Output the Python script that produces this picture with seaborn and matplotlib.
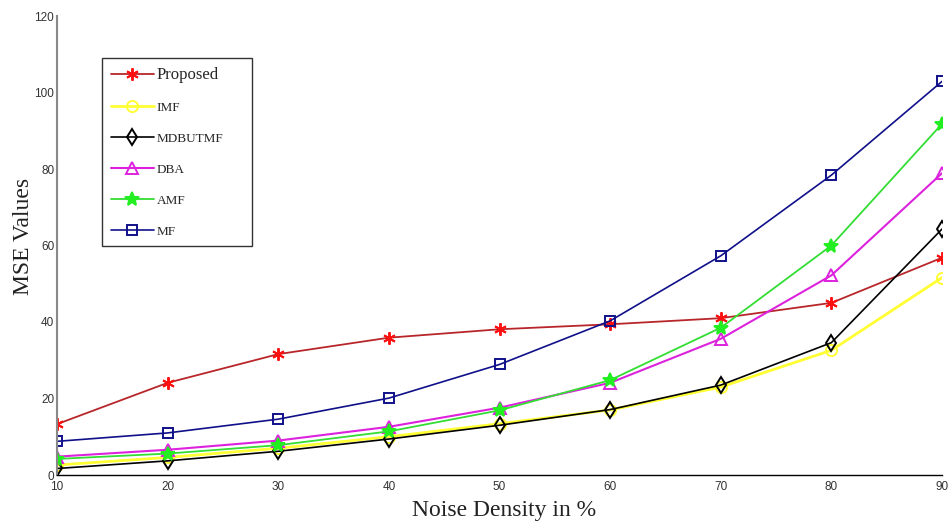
import matplotlib
matplotlib.use("Agg")
import matplotlib.pyplot as plt
import seaborn as sns
import pandas as pd

noise = [10, 20, 30, 40, 50, 60, 70, 80, 90]
proposed = [13.3, 24.1, 31.6, 35.9, 38.1, 39.4, 41.0, 45.0, 56.8]
imf = [2.6, 4.6, 7.0, 10.0, 13.4, 17.0, 23.0, 32.6, 51.6]
mdbutmf = [1.7, 3.7, 6.2, 9.4, 13.0, 17.1, 23.5, 34.6, 64.3]
dba = [4.8, 6.6, 9.0, 12.6, 17.6, 24.1, 35.6, 52.2, 78.9]
amf = [4.2, 5.6, 7.8, 11.4, 16.9, 24.8, 38.5, 60.0, 91.8]
mf = [8.8, 11.0, 14.6, 20.1, 28.9, 40.3, 57.3, 78.4, 102.9]

series = ["Proposed", "IMF", "MDBUTMF", "DBA", "AMF", "MF"]
values = [proposed, imf, mdbutmf, dba, amf, mf]
line_colors = ["#b8262a", "#ffff33", "#000000", "#dd22dd", "#33dd33", "#10108a"]
marker_colors = ["#ff1010", "#ffff33", "#000000", "#dd22dd", "#22ee22", "#10108a"]
markers = [(6, 2, 0), "o", "d", "^", "*", "s"]
filled = [False, False, False, False, True, False]
lws = [1.3, 2.0, 1.2, 1.5, 1.3, 1.2]
msizes = [9, 8, 8, 8.5, 10, 7]

sns.set_style("white")
plt.rcParams["font.family"] = ["Liberation Sans", "DejaVu Sans"]

fig = plt.figure(figsize=(9.51, 5.25), dpi=100)
ax = fig.add_axes([57/951, 50/525, 885/951, 459/525])

for name, v, lc, mc, m, f, lw, ms in zip(series, values, line_colors, marker_colors,
                                         markers, filled, lws, msizes):
    df = pd.DataFrame({"x": noise, "y": v})
    sns.lineplot(data=df, x="x", y="y", ax=ax, color=lc, marker=m, markersize=ms,
                 linewidth=lw, label=name,
                 markerfacecolor=(mc if f else "none"), markeredgecolor=mc,
                 markeredgewidth=1.4)

ax.set_xlim(10, 90)
ax.set_ylim(0, 120)
ax.set_xticks(noise)
ax.set_yticks([0, 20, 40, 60, 80, 100, 120])
ax.tick_params(axis="both", direction="in", length=5, labelsize=8.5, colors="#333333")
ax.tick_params(axis="x", pad=4)
ax.tick_params(axis="y", pad=2)

for s in ["top", "right"]:
    ax.spines[s].set_visible(False)
ax.spines["left"].set_color("#888888")
ax.spines["left"].set_linewidth(1.5)
ax.spines["bottom"].set_color("#000000")
ax.spines["bottom"].set_linewidth(1.0)

ax.set_xlabel("Noise Density in %", family="Liberation Serif", fontsize=17, color="#222222")
ax.set_ylabel("MSE Values", family="Liberation Serif", fontsize=17, color="#222222")
ax.xaxis.set_label_coords(0.505, -0.055)
ax.yaxis.set_label_coords(-0.026, 0.52)

leg = ax.legend(loc="upper left", bbox_to_anchor=(0.051, 0.497, 150/885, 0.411),
                mode="expand", frameon=True,
                fancybox=False, edgecolor="#000000", fontsize=9.5,
                handlelength=3.3, labelspacing=1.42, borderpad=0.65,
                handletextpad=0.2, borderaxespad=0)
leg.get_frame().set_linewidth(1.0)
for i, t in enumerate(leg.get_texts()):
    t.set_family("Liberation Serif")
    t.set_fontsize(12 if i == 0 else 9.5)

fig.savefig("out.png", dpi=100)
